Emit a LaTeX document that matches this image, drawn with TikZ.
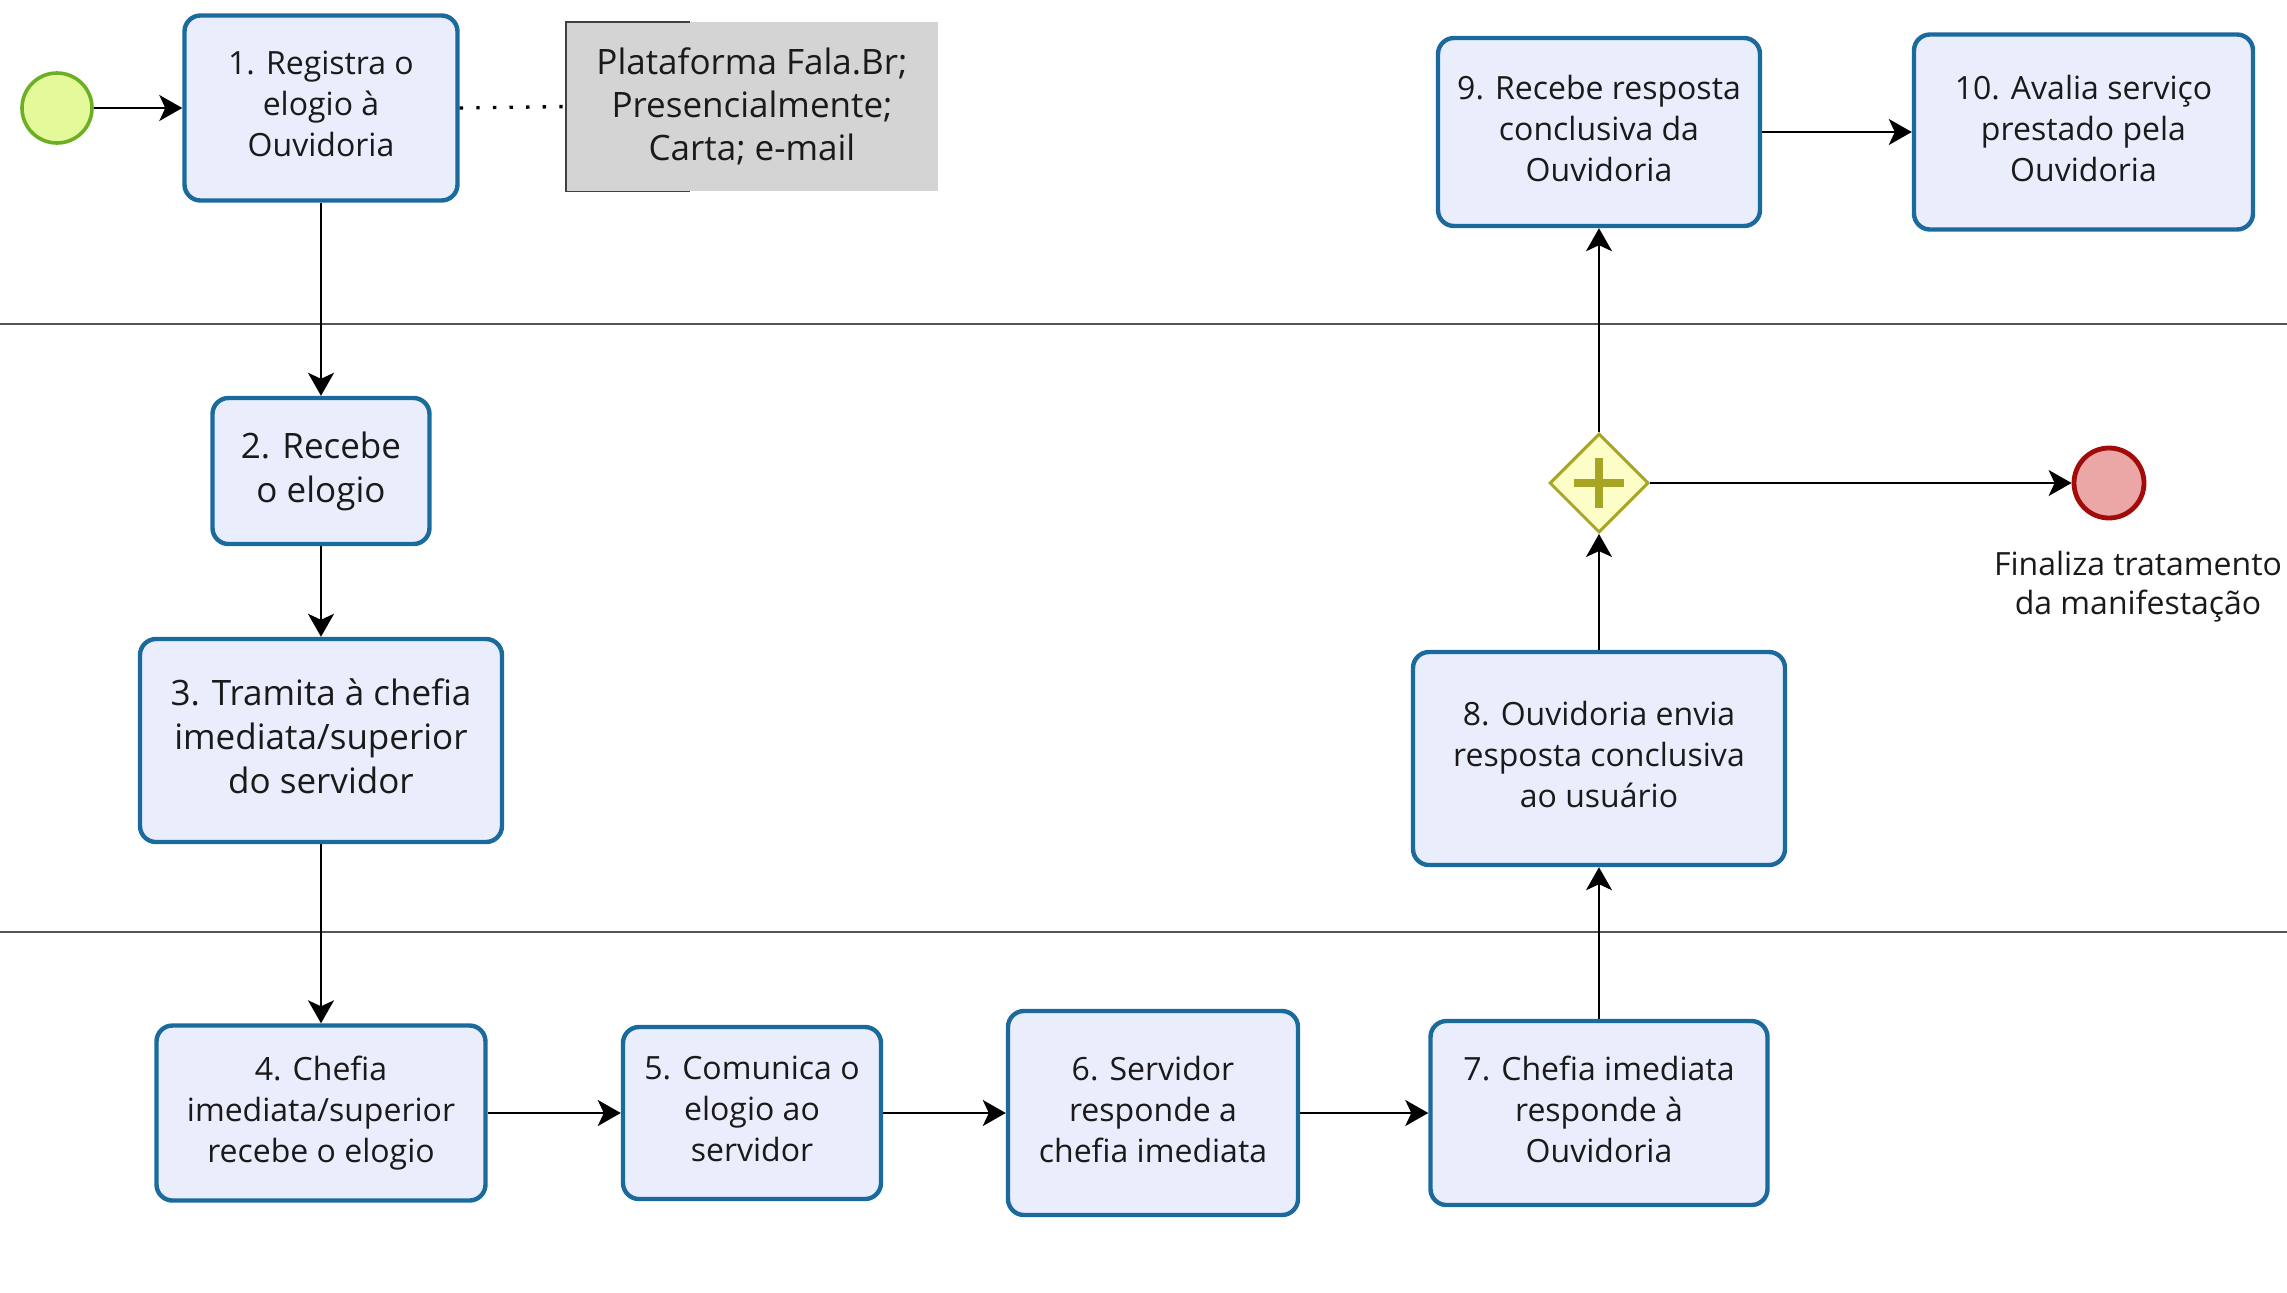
\documentclass[tikz,border=0pt]{standalone}
\usepackage{fontspec}
\setmainfont{Open Sans}
\usetikzlibrary{arrows.meta,shapes.geometric}
\definecolor{taskline}{HTML}{1B6A9E}
\definecolor{taskfill}{HTML}{EAEDFC}
\definecolor{startfill}{HTML}{E4FA9A}
\definecolor{startline}{HTML}{6CAE24}
\definecolor{endfill}{HTML}{EBA6A6}
\definecolor{endline}{HTML}{A30B0B}
\definecolor{gwfill}{HTML}{FDFDC8}
\definecolor{gwline}{HTML}{A6A624}
\definecolor{annfill}{HTML}{D4D4D4}
\definecolor{txt}{HTML}{1A1A1A}
\definecolor{lane}{HTML}{555555}
\tikzset{
  task/.style={draw=taskline, fill=taskfill, line width=2.2pt, rounded corners=8pt,
    align=center, inner sep=0pt, text=txt, text depth=3.8pt, font=\fontsize{16}{20.5}\selectfont},
  bigtask/.style={task, text depth=4.2pt, font=\fontsize{17.5}{22}\selectfont},
  flow/.style={-{Stealth[length=11.5pt,width=13pt,inset=3pt]}, line width=1pt, black},
  startev/.style={circle, draw=startline, fill=startfill, line width=1.8pt, minimum size=35pt, inner sep=0pt},
  endev/.style={circle, draw=endline, fill=endfill, line width=2.4pt, minimum size=35pt, inner sep=0pt},
  gateway/.style={diamond, draw=gwline, fill=gwfill, line width=1.5pt, minimum width=49.5pt, minimum height=49.5pt, inner sep=0pt},
  annot/.style={fill=annfill, align=center, inner sep=0pt, text=txt, font=\fontsize{17.5}{21.5}\selectfont},
  bracket/.style={draw=black!75, line width=0.9pt},
  assoc/.style={line width=1.7pt, dash pattern=on 1.7pt off 6.6pt, black},
  laneline/.style={draw=lane, line width=0.8pt},
  label/.style={align=center, inner sep=0pt, text=txt, font=\fontsize{16}{19.5}\selectfont},
}
\begin{document}
\begin{tikzpicture}[x=0.5pt,y=-0.5pt]
\useasboundingbox (0,0) rectangle (2287,1292);
% lanes
\draw[laneline] (0,324) -- (2287,324);
\draw[laneline] (0,932) -- (2287,932);
% events
\node[startev] (start) at (57,108) {};
\node[endev] (end) at (2109,483) {};
\node[label] (endlbl) at (2138,587) {Finaliza tratamento\\da manifestação};
% tasks
\node[task, minimum width=136.5pt, minimum height=92.5pt] (t1) at (321,108) {1. Registra o\\elogio à\\Ouvidoria};
\node[annot, minimum width=186pt, minimum height=84.5pt] (ann) at (752,106.5) {Plataforma Fala.Br;\\Presencialmente;\\Carta; e-mail};
\draw[bracket] ([xshift=62pt]ann.north west) -- (ann.north west) -- (ann.south west) -- ([xshift=62pt]ann.south west);
\node[bigtask, minimum width=108.5pt, minimum height=73pt] (t2) at (321,471) {2. Recebe\\o elogio};
\node[bigtask, minimum width=181pt, minimum height=101.5pt] (t3) at (321,740.5) {3. Tramita à chefia\\imediata/superior\\do servidor};
\node[task, minimum width=164.5pt, minimum height=87.5pt] (t4) at (321,1113) {4. Chefia\\imediata/superior\\recebe o elogio};
\node[task, minimum width=129pt, minimum height=86pt] (t5) at (752,1113) {5. Comunica o\\elogio ao\\servidor};
\node[task, minimum width=145pt, minimum height=102pt] (t6) at (1153,1113) {6. Servidor\\responde a\\chefia imediata};
\node[task, minimum width=168.5pt, minimum height=92pt] (t7) at (1599,1113) {7. Chefia imediata\\responde à\\Ouvidoria};
\node[task, minimum width=186pt, minimum height=106.5pt] (t8) at (1599,758.5) {8. Ouvidoria envia\\resposta conclusiva\\ao usuário};
\node[gateway] (gw) at (1599,483) {};
\draw[gwline, line width=4pt] ([xshift=-12.5pt]gw.center) -- ([xshift=12.5pt]gw.center);
\draw[gwline, line width=4pt] ([yshift=-12.5pt]gw.center) -- ([yshift=12.5pt]gw.center);
\node[task, minimum width=161pt, minimum height=94pt] (t9) at (1599,132) {9. Recebe resposta\\conclusiva da\\Ouvidoria};
\node[task, minimum width=169.5pt, minimum height=97.5pt] (t10) at (2083.5,132) {10. Avalia serviço\\prestado pela\\Ouvidoria};
% flows
\draw[flow] (start) -- (t1);
\draw[assoc] (t1.east) -- (ann.west);
\draw[flow] (t1) -- (t2);
\draw[flow] (t2) -- (t3);
\draw[flow] (t3) -- (t4);
\draw[flow] (t4) -- (t5);
\draw[flow] (t5) -- (t6);
\draw[flow] (t6) -- (t7);
\draw[flow] (t7) -- (t8);
\draw[flow] (t8) -- (gw);
\draw[flow] (gw) -- (t9);
\draw[flow] (gw) -- (end);
\draw[flow] (t9) -- (t10);
\end{tikzpicture}
\end{document}
